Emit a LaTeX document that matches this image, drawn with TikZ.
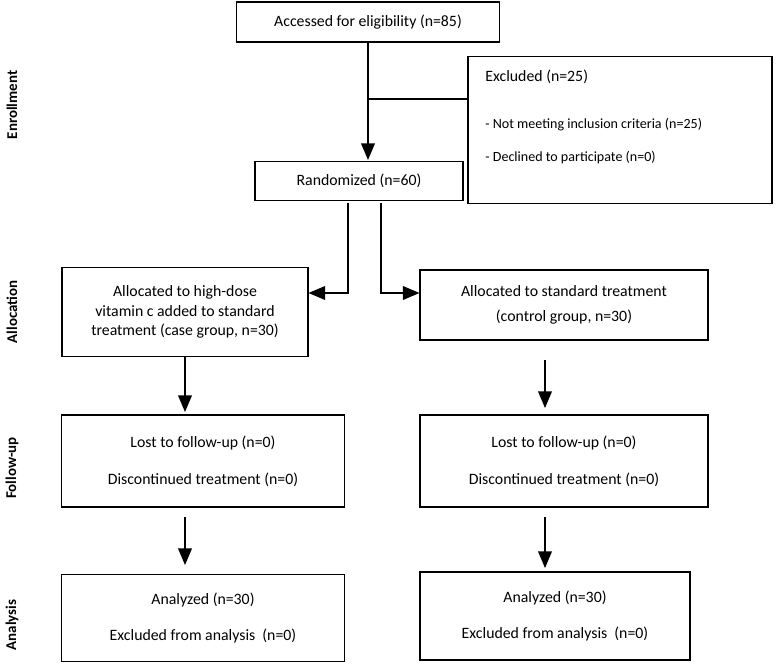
\documentclass[tikz,border=0pt]{standalone}
\usepackage{fontspec}
\setmainfont{Carlito}
\usetikzlibrary{positioning, arrows}

\begin{document}
\begin{tikzpicture}[x=0.02cm, y=-0.02cm, >=triangle 45, semithick,
    box/.style={draw, inner sep=0pt, align=center, font=\fontsize{9}{11}\selectfont},
    side/.style={rotate=90, font=\bfseries\fontsize{8.5}{10}\selectfont},
    link/.style={->, line width=1.2pt}]
    \useasboundingbox (0,0) rectangle (776,668);
    % stage labels
    \node[side] (enr) at (12,105) {Enrollment};
    \node[side] (alc) at (12,312) {Allocation};
    \node[side] (fol) at (12,468) {Follow-up};
    \node[side] (ana) at (12,625) {Analysis};
    % boxes
    \node[box, minimum width=263*0.02cm, minimum height=40*0.02cm] (acc) at (368,22) {Accessed for eligibility (n=85)};
    \node[box, minimum width=304*0.02cm, minimum height=147*0.02cm] (exc) at (620,130) {};
    \node[anchor=west, font=\fontsize{9}{11}\selectfont] (exct) at (479,77) {Excluded (n=25)};
    \node[anchor=west, font=\fontsize{8}{10}\selectfont] (exc1) at (479,125) {- Not meeting inclusion criteria (n=25)};
    \node[anchor=west, font=\fontsize{8}{10}\selectfont] (exc2) at (479,157) {- Declined to participate (n=0)};
    \node[box, minimum width=208*0.02cm, minimum height=39*0.02cm] (rand) at (359,181) {Randomized (n=60)};
    \node[box, minimum width=246*0.02cm, minimum height=89*0.02cm] (case) at (185,312)
        {Allocated to high-dose\\vitamin c added to standard\\treatment (case group, n=30)};
    \node[box, minimum width=288*0.02cm, minimum height=70*0.02cm] (ctrl) at (564,305)
        {Allocated to standard treatment\\[3pt](control group, n=30)};
    \node[box, minimum width=283*0.02cm, minimum height=92*0.02cm] (fl) at (203,461)
        {Lost to follow-up (n=0)\\[10pt]Discontinued treatment (n=0)};
    \node[box, minimum width=288*0.02cm, minimum height=92*0.02cm] (fr) at (564,461)
        {Lost to follow-up (n=0)\\[10pt]Discontinued treatment (n=0)};
    \node[box, minimum width=283*0.02cm, minimum height=87*0.02cm] (al) at (203,618)
        {Analyzed (n=30)\\[10pt]Excluded from analysis\ \ (n=0)};
    \node[box, minimum width=270*0.02cm, minimum height=88*0.02cm] (ar) at (555,616)
        {Analyzed (n=30)\\[10pt]Excluded from analysis\ \ (n=0)};
    % connector ends
    \coordinate (a1) at (368,42);  \coordinate (a2) at (368,160);
    \coordinate (j) at (368,99);
    \coordinate (r1) at (348,203); \coordinate (r2) at (381,203);
    \coordinate (c1) at (185,357); \coordinate (c2) at (185,412);
    \coordinate (k1) at (545,360); \coordinate (k2) at (545,408);
    \coordinate (f1) at (185,517); \coordinate (f2) at (185,565);
    \coordinate (g1) at (545,517); \coordinate (g2) at (545,568);
    % connectors
    \draw[link] (a1) -- (a2);
    \draw[line width=1.2pt] (j) -- (exc.west |- j);
    \draw[link] (r1) |- (case.east |- 0,293);
    \draw[link] (r2) |- (ctrl.west |- 0,293);
    \draw[link] (c1) -- (c2);
    \draw[link] (k1) -- (k2);
    \draw[link] (f1) -- (f2);
    \draw[link] (g1) -- (g2);
\end{tikzpicture}
\end{document}
